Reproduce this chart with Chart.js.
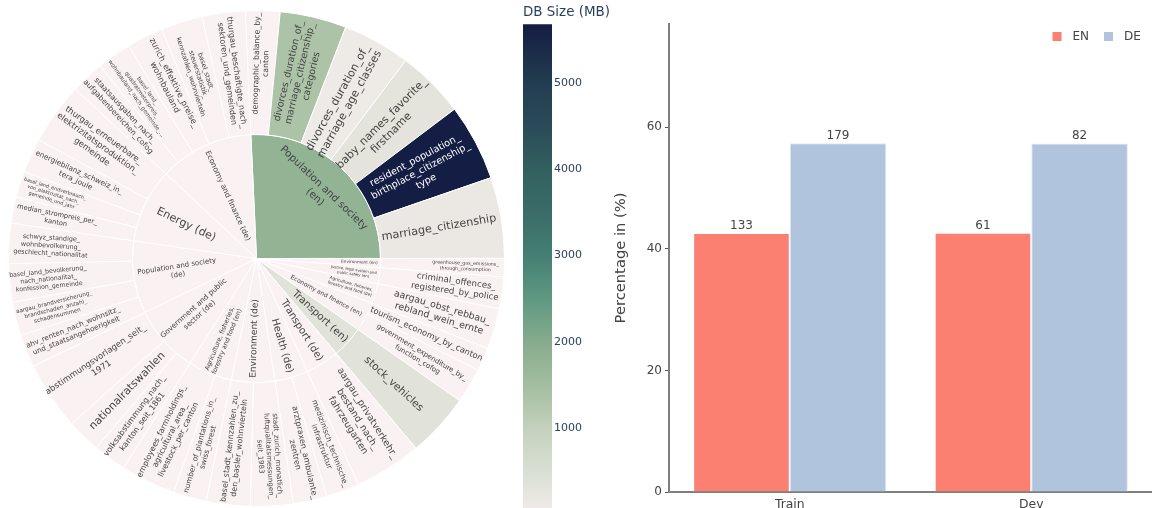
<!DOCTYPE html>
<html>
<head>
<meta charset="utf-8">
<script src="https://cdn.jsdelivr.net/npm/chart.js@4"></script>
<style>
  html, body { margin: 0; padding: 0; background: #fff; overflow: hidden; }
  canvas { position: absolute; top: 0; }
  #sunburst { left: 0; }
  #colorbar { left: 523px; }
  #bars { left: 610px; }
</style>
</head>
<body>
<canvas id="sunburst" width="505" height="507"></canvas>
<canvas id="colorbar" width="87" height="508"></canvas>
<canvas id="bars" width="542" height="508"></canvas>
<script>
// sunburst - inner ring
const topicNames = [
  "Population and society\n(en)", "Environment (en)", "Justice, legal system and\npublic safety (en)",
  "Agriculture, fisheries,\nforestry and food (de)", "Economy and finance (en)", "Transport (en)",
  "Transport (de)", "Health (de)", "Environment (de)", "Agriculture, fisheries,\nforestry and food (en)",
  "Government and public\nsector (de)", "Population and society\n(de)", "Energy (de)", "Economy and finance (de)"
];
const topicSizeMB = [1800, 3, 3, 3, 3, 350, 3, 3, 3, 3, 3, 3, 3, 3];

// sunburst - outer ring, clockwise from the top
const leafNames = [
  "demographic_balance_by_\ncanton", "divorces_duration_of_\nmarriage_citizenship_\ncategories",
  "divorces_duration_of_\nmarriage_age_classes", "baby_names_favorite_\nfirstname",
  "resident_population_\nbirthplace_citizenship_\ntype", "marriage_citizenship",
  "greenhouse_gas_emissions_\nthrough_consumption", "criminal_offences_\nregistered_by_police",
  "aargau_obst_rebbau_\nrebland_wein_ernte", "tourism_economy_by_canton",
  "government_expenditure_by_\nfunction_cofog", "stock_vehicles",
  "aargau_privatverkehr_\nbestand_nach_\nfahrzeugarten", "medizinisch_technische_\ninfrastruktur",
  "arztpraxen_ambulante_\nzentren", "stadt_zurich_monatlich_\nluftqualitatsmessungen_\nseit_1983",
  "basel_stadt_kennzahlen_zu_\nden_basler_wohnvierteln", "number_of_plantations_in_\nswiss_forest",
  "employees_farmholdings_\nagricultural_area_\nlivestock_per_canton", "volksabstimmung_nach_\nkanton_seit_1861",
  "nationalratswahlen", "abstimmungsvorlagen_seit_\n1971",
  "ahv_renten_nach_wohnsitz_\nund_staatsangehoerigkeit", "aargau_brandversicherung_\nbrandschaden_anzahl_\nschadensummen",
  "basel_land_bevolkerung_\nnach_nationalitat_\nkonfession_gemeinde", "schwyz_standige_\nwohnbevolkerung_\ngeschlecht_nationalitat",
  "median_strompreis_per_\nkanton", "basel_land_endverbrauch_\nvon_elektrizitat_nach_\ngemeinde_und_jahr",
  "energiebilanz_schweiz_in_\ntera_joule", "thurgau_erneuerbare_\nelektrizitatsproduktion_\ngemeinde",
  "staatsausgaben_nach_\naufgabenbereichen_cofog", "basel_land_\nquadratmeterpreis_\nwohnbauland_nach_gemeinde_...",
  "zurich_effektive_preise_\nwohnbauland", "basel_stadt_\nsteuerstatistik_\nkennzahlen_wohnvierteln",
  "thurgau_beschaftigte_nach_\nsektoren_und_gemeinden"
];
const leafTopic = [0,0,0,0,0,0,1,2,3,4,4,5,6,7,7,8,8,9,9,10,10,10,11,11,11,11,12,12,12,12,13,13,13,13,13];
const leafShare = [8.1,15.6,15.9,16,18,19, 4.3,7.5,9.5,5.5,8.2,15,15.8,7.8,7.9,10,10.3,7.8,12.9,7.8,8,16,7.7,7.9,9,9.4,6.2,6.1,8.1,14.5,7.8,8.1,8.5,9.8,10.1];
const leafSizeMB = [3,1350,90,290,5684,150, 3,3,3,3,3,350,3,3,3,3,3,3,3,3,3,3,3,3,3,3,3,3,3,3,3,3,3,3,3];

// colour scale and colorbar
const colorStopValues = [0, 72, 500, 1000, 1500, 2000, 2500, 3000, 3500, 4000, 4500, 5000, 5684];
const colorStopColors = ["#f9f1f2", "#efeae7", "#d9dfd3", "#c3d1bc", "#a3bd9f", "#86ac8d", "#5f9882", "#447f72", "#3a6c68", "#32605f", "#2a4b58", "#233d50", "#141d43"];
const colorbarRange = [72, 5684];
const colorbarTicks = [1000, 2000, 3000, 4000, 5000];

// bar chart
const splits = ["Train", "Dev"];
const percentEN = [42.63, 42.66];
const percentDE = [57.37, 57.34];
const countEN = [133, 61];
const countDE = [179, 82];
const percentTicks = [0, 20, 40, 60];

// label styling (font px and distance from centre)
const leafFont = [7.7,9.5,11,11,9.7,11.2,4.7,8.6,9.4,8.4,7,10.5,9.4,7.5,8.1,7,7.9,7.4,7.8,8,10.8,8.5,7.2,5.6,6.2,6.4,6.7,4.9,7.3,8.4,7.6,5.6,8.3,6.5,8];
const leafRadius = [195,190,180,184,186,185,209,201,192,186,190,186,190,199,200,198,190,195,197,199,185,190,196,207,209,206,204,213,197,196,198,200,194,193,187];
const topicFont = [10.3,4.2,3.7,4.2,6.1,10.2,10,10,9,6.4,7.3,7,11,7.5];
const topicRadius = [91,103,98,98,79,86,85,91,80,88,80,80,78,69];
const fontName = '"DejaVu Sans"';

function hexToRgb(h) {
  return [1, 3, 5].map(i => parseInt(h.substr(i, 2), 16));
}

function colorFor(v) {
  let i = 1;
  while (i < colorStopValues.length - 1 && v > colorStopValues[i]) i++;
  const t = Math.min(1, Math.max(0, (v - colorStopValues[i - 1]) / (colorStopValues[i] - colorStopValues[i - 1])));
  const a = hexToRgb(colorStopColors[i - 1]), b = hexToRgb(colorStopColors[i]);
  return "rgb(" + a.map((c, k) => Math.round(c + (b[k] - c) * t)).join(",") + ")";
}

// inner ring size = sum of its leaves
const topicShare = topicNames.map((_, t) => leafShare.reduce((s, v, i) => leafTopic[i] === t ? s + v : s, 0));

function drawLines(ctx, text, size, color) {
  const lines = text.split("\n");
  const lh = size * 1.22;
  ctx.font = size + "px " + fontName;
  ctx.fillStyle = color;
  ctx.textAlign = "center";
  ctx.textBaseline = "middle";
  lines.forEach((l, i) => ctx.fillText(l, 0, (i - (lines.length - 1) / 2) * lh));
}

const sectorLabels = {
  id: "sectorLabels",
  afterDatasetsDraw(chart) {
    const ctx = chart.ctx;
    [[0, leafNames, leafFont, leafRadius], [1, topicNames, topicFont, topicRadius]].forEach(([ds, names, fonts, radii]) => {
      chart.getDatasetMeta(ds).data.forEach((arc, i) => {
        const a = (arc.startAngle + arc.endAngle) / 2;
        const r = radii[i];
        let rot = Math.cos(a) >= 0 ? a : a + Math.PI;
        if (ds === 1 && i === 0) rot = a + Math.PI / 2; // this one runs along the arc
        ctx.save();
        ctx.translate(arc.x + r * Math.cos(a), arc.y + r * Math.sin(a));
        ctx.rotate(rot);
        drawLines(ctx, names[i], fonts[i], ds === 0 && leafSizeMB[i] > 4000 ? "#fff" : "#444");
        ctx.restore();
      });
    });
  }
};

new Chart(document.querySelector("#sunburst"), {
  type: "doughnut",
  data: {
    labels: leafNames,
    datasets: [
      { data: leafShare, backgroundColor: leafSizeMB.map(colorFor), borderColor: "#fff", borderWidth: 1, hoverBorderWidth: 1 },
      { data: topicShare, backgroundColor: topicSizeMB.map(colorFor), borderColor: "#fff", borderWidth: 1, hoverBorderWidth: 1 }
    ]
  },
  options: {
    responsive: false,
    animation: false,
    cutout: 0,
    rotation: -2.6,
    layout: { padding: { left: 8, top: 10 } },
    plugins: { legend: { display: false }, tooltip: { enabled: false } }
  },
  plugins: [sectorLabels]
});

// colorbar: one floating bar with the scale as gradient
new Chart(document.querySelector("#colorbar"), {
  type: "bar",
  data: {
    labels: ["DB Size (MB)"],
    datasets: [{
      data: [colorbarRange],
      barPercentage: 1,
      categoryPercentage: 1,
      borderSkipped: false,
      backgroundColor(c) {
        const area = c.chart.chartArea;
        if (!area) return "#ccc";
        const g = c.chart.ctx.createLinearGradient(0, area.bottom, 0, area.top);
        colorStopValues.forEach((v, i) => {
          if (v >= colorbarRange[0]) g.addColorStop((v - colorbarRange[0]) / (colorbarRange[1] - colorbarRange[0]), colorStopColors[i]);
        });
        return g;
      }
    }]
  },
  options: {
    responsive: false,
    animation: false,
    layout: { padding: 0 },
    scales: {
      x: { display: false },
      y: {
        position: "right",
        min: colorbarRange[0],
        max: colorbarRange[1],
        afterBuildTicks(s) { s.ticks = colorbarTicks.map(v => ({ value: v })); },
        afterFit(s) { s.width = 58; s.paddingTop = 0; s.paddingBottom = 0; },
        border: { display: false },
        grid: { display: false, drawTicks: false },
        ticks: { color: "#2a3f5f", padding: 2, font: { family: fontName, size: 11 }, callback: v => String(v) }
      }
    },
    plugins: {
      legend: { display: false },
      tooltip: { enabled: false },
      title: {
        display: true,
        text: "DB Size (MB)",
        align: "start",
        color: "#2a3f5f",
        font: { family: fontName, size: 13.5, weight: "normal" },
        padding: { top: 4, bottom: 4 }
      }
    }
  }
});

// counts above the bars + legend inside the plot area
const barExtras = {
  id: "barExtras",
  afterDatasetsDraw(chart) {
    const ctx = chart.ctx;
    ctx.save();
    ctx.font = "12px " + fontName;
    ctx.fillStyle = "#444";
    ctx.textAlign = "center";
    ctx.textBaseline = "alphabetic";
    [countEN, countDE].forEach((counts, d) => {
      chart.getDatasetMeta(d).data.forEach((bar, i) => ctx.fillText(counts[i], bar.x, bar.y - 4));
    });
    ctx.textAlign = "left";
    ctx.textBaseline = "middle";
    chart.data.datasets.forEach((ds, d) => {
      const x = 442.5 + d * 51.5;
      ctx.fillStyle = ds.backgroundColor;
      ctx.fillRect(x, 32, 9, 9);
      ctx.fillStyle = "#444";
      ctx.fillText(ds.label, x + 20, 37);
    });
    ctx.restore();
  }
};

new Chart(document.querySelector("#bars"), {
  type: "bar",
  data: {
    labels: splits,
    datasets: [
      { label: "EN", data: percentEN, backgroundColor: "#fc8071", borderColor: "#fff", borderWidth: 1 },
      { label: "DE", data: percentDE, backgroundColor: "#b0c4de", borderColor: "#e2e9f4", borderWidth: 1 }
    ]
  },
  options: {
    responsive: false,
    animation: false,
    barPercentage: 1,
    categoryPercentage: 0.8,
    layout: { padding: { top: 24 } },
    scales: {
      x: {
        afterFit(s) { s.height = 16; },
        border: { color: "#7f7f7f", width: 2 },
        grid: { drawOnChartArea: false, drawTicks: false },
        ticks: { color: "#444", padding: 5, maxRotation: 0, font: { family: fontName, size: 12.4 } }
      },
      y: {
        min: 0,
        max: 77,
        afterBuildTicks(s) { s.ticks = percentTicks.map(v => ({ value: v })); },
        afterFit(s) { s.width = 59; },
        border: { color: "#7f7f7f", width: 2 },
        grid: { drawOnChartArea: false, tickLength: 4, tickColor: "#555" },
        title: {
          display: true,
          text: "Percentage in (%)",
          color: "#444",
          font: { family: fontName, size: 14.7 },
          padding: { top: 2, bottom: 0 }
        },
        ticks: { color: "#444", padding: 3, font: { family: fontName, size: 12 } }
      }
    },
    plugins: { legend: { display: false }, tooltip: { enabled: false } }
  },
  plugins: [barExtras]
});
</script>
</body>
</html>
